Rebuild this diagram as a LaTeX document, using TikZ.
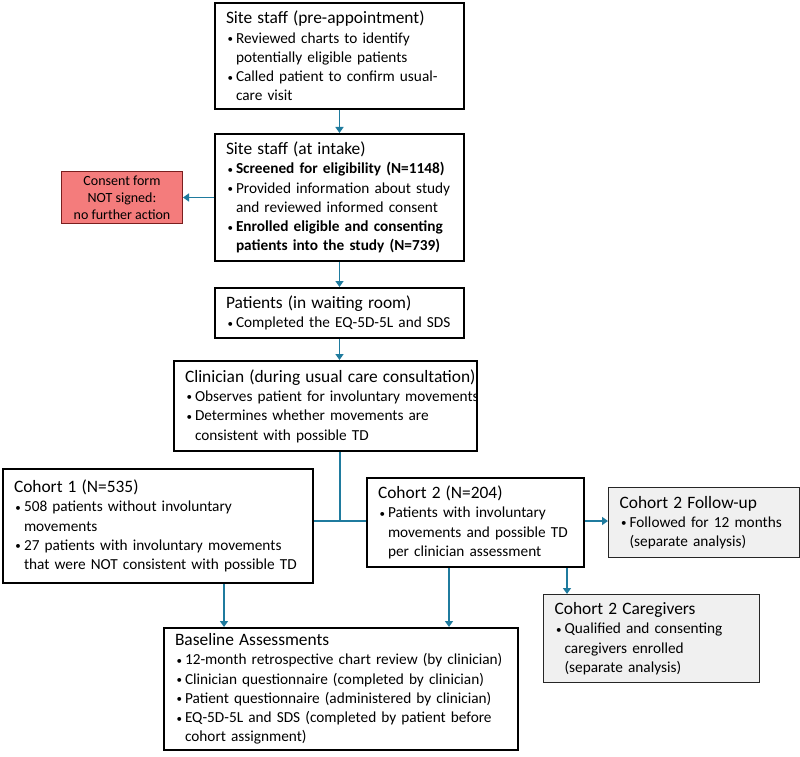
\documentclass[tikz,border=0pt]{standalone}
\usepackage{fontspec}
\setmainfont{Carlito}
\usetikzlibrary{arrows.meta}
\definecolor{arrcol}{HTML}{1F7B9E}
\definecolor{redfill}{HTML}{F47C7C}
\definecolor{redline}{HTML}{7A1E1E}
\definecolor{grayfill}{HTML}{F0F0F0}
\newcommand{\ttl}[1]{{\fontsize{17.4}{20}\selectfont\mbox{#1}\par}}
\newcommand{\smb}{\raisebox{0.5pt}{\fontsize{11}{11}\selectfont\textbullet}}
\newcommand{\bu}[1]{\par\noindent\makebox[10pt][l]{\hspace{1.5pt}\smb}\mbox{#1}}
\newcommand{\cn}[1]{\par\noindent\hspace*{10pt}\mbox{#1}}
\newcommand{\bbu}[1]{\par\noindent\makebox[10pt][l]{\hspace{1.5pt}\smb}\mbox{\bfseries #1}}
\newcommand{\bcn}[1]{\par\noindent\hspace*{10pt}\mbox{\bfseries #1}}
\tikzset{
  box/.style={draw, line width=2pt, anchor=north west, inner xsep=11pt, inner ysep=3pt,
    align=left, font=\fontsize{15.3}{19.3}\selectfont},
  graybox/.style={box, line width=1.2pt, draw=black!85, fill=grayfill},
  arr/.style={draw=arrcol, line width=1.6pt, -{Triangle[width=8pt,length=6pt]}},
  lnk/.style={draw=arrcol, line width=1.6pt},
}
\begin{document}
\begin{tikzpicture}[x=1pt,y=-1pt]
\useasboundingbox (0,0) rectangle (800,757);
\node[box, minimum width=249, minimum height=106, text width=227] (b1) at (214,2)
 {\ttl{Site staff (pre-appointment)}\bu{Reviewed charts to identify}\cn{potentially eligible patients}\bu{Called patient to confirm usual-}\cn{care visit}};
\node[box, minimum width=249, minimum height=127, text width=227] (b2) at (214,133)
 {\ttl{Site staff (at intake)}\bbu{Screened for eligibility (N=1148)}\bu{Provided information about study}\cn{and reviewed informed consent}\bbu{Enrolled eligible and consenting}\bcn{patients into the study (N=739)}};
\node[draw=redline, line width=1pt, fill=redfill, anchor=north west, minimum width=121, minimum height=52, align=center, inner sep=2pt, font=\fontsize{14}{16.8}\selectfont] (red) at (61,171)
 {Consent form\\NOT signed:\\no further action};
\node[box, minimum width=249, minimum height=50, text width=227] (b3) at (214,287)
 {\ttl{Patients (in waiting room)}\bu{Completed the EQ-5D-5L and SDS}};
\node[box, minimum width=303, minimum height=90, text width=281, inner xsep=10pt] (b4) at (173,360)
 {\ttl{Clinician (during usual care consultation)}\bu{Observes patient for involuntary movements}\bu{Determines whether movements are}\cn{consistent with possible TD}};
\node[box, minimum width=310, minimum height=114, text width=288, inner xsep=10pt] (c1) at (2,468)
 {\ttl{Cohort 1 (N=535)}\bu{508 patients without involuntary}\cn{movements}\bu{27 patients with involuntary movements}\cn{that were NOT consistent with possible TD}};
\node[box, minimum width=217, minimum height=89, text width=195] (c2) at (366,477)
 {\ttl{Cohort 2 (N=204)}\bu{Patients with involuntary}\cn{movements and possible TD}\cn{per clinician assessment}};
\node[graybox, minimum width=191, minimum height=70, text width=169, inner xsep=10pt] (fu) at (608,487)
 {\ttl{Cohort 2 Follow-up}\bu{Followed for 12 months}\cn{(separate analysis)}};
\node[graybox, minimum width=216, minimum height=88, text width=194, inner xsep=10pt] (cg) at (543,594)
 {\ttl{Cohort 2 Caregivers}\bu{Qualified and consenting}\cn{caregivers enrolled}\cn{(separate analysis)}};
\node[box, minimum width=354, minimum height=122, text width=332] (ba) at (163,627)
 {\ttl{Baseline Assessments}\bu{12-month retrospective chart review (by clinician)}\bu{Clinician questionnaire (completed by clinician)}\bu{Patient questionnaire (administered by clinician)}\bu{EQ-5D-5L and SDS (completed by patient before}\cn{cohort assignment)}};
\coordinate (j) at (340,521);
\draw[arr] (b1) -- (b2);
\draw[arr] (b2.west) -- (red.east);
\draw[arr] (b2) -- (b3);
\draw[arr] (b3.south) -- (b3.south |- b4.north);
\draw[lnk] (b4.south -| j) -- (j);
\draw[lnk] (c1.east |- j) -- (c2.west |- j);
\draw[arr] (c2.east |- j) -- (fu.west |- j);
\draw[arr] (c2.south -| 567,0) -- (cg.north -| 567,0);
\draw[arr] (c1.south -| 224,0) -- (ba.north -| 224,0);
\draw[arr] (c2.south -| 449,0) -- (ba.north -| 449,0);
\end{tikzpicture}
\end{document}
